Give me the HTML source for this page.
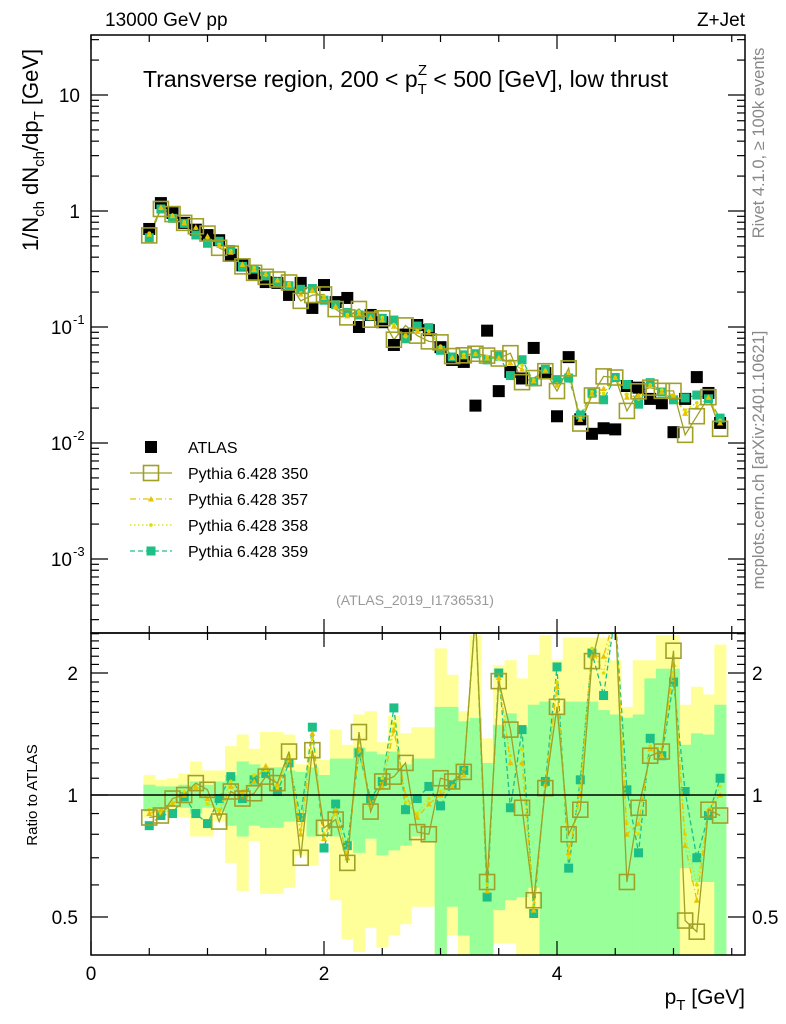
<!DOCTYPE html>
<html><head><meta charset="utf-8"><style>
html,body{margin:0;padding:0;background:#fff;}
svg{display:block;font-family:"Liberation Sans",sans-serif;}
</style></head><body>
<svg id="c" width="786" height="1024" viewBox="0 0 786 1024" xmlns="http://www.w3.org/2000/svg">
<defs>
<clipPath id="cm"><rect x="91" y="35" width="654" height="598"/></clipPath>
<clipPath id="cr"><rect x="91" y="633" width="654" height="322"/></clipPath>
</defs>
<g id="bands" clip-path="url(#cr)"></g>
<g id="ratioMarks" clip-path="url(#cr)"></g>
<g id="mainMarks" clip-path="url(#cm)"></g>
<line x1="91" y1="795" x2="745" y2="795" stroke="#000" stroke-width="1.5"/>
<rect x="91" y="35" width="654" height="598" fill="none" stroke="#000" stroke-width="1.5"/>
<rect x="91" y="633" width="654" height="322" fill="none" stroke="#000" stroke-width="1.5"/>
<g id="axes"></g>
<text x="105" y="26" font-size="19">13000 GeV pp</text>
<text x="745" y="26" font-size="19" text-anchor="end">Z+Jet</text>
<text x="143" y="87" font-size="23">Transverse region, 200 &lt; p<tspan font-size="15" dy="7">T</tspan><tspan font-size="15" dx="-9" dy="-19">Z</tspan><tspan dy="12"> &lt; 500 [GeV], low thrust</tspan></text>
<text transform="translate(38,150) rotate(-90)" font-size="22" text-anchor="middle">1/N<tspan font-size="15" dy="6">ch</tspan><tspan dy="-6"> dN</tspan><tspan font-size="15" dy="6">ch</tspan><tspan dy="-6">/dp</tspan><tspan font-size="15" dy="6">T</tspan><tspan dy="-6"> [GeV]</tspan></text>
<text transform="translate(764,143) rotate(-90)" font-size="16.5" fill="#888" text-anchor="middle">Rivet 4.1.0, ≥ 100k events</text>
<text transform="translate(764,460) rotate(-90)" font-size="16.5" fill="#888" text-anchor="middle">mcplots.cern.ch [arXiv:2401.10621]</text>
<text x="415" y="605" font-size="14" fill="#999" text-anchor="middle">(ATLAS_2019_I1736531)</text>
<text transform="translate(37,795) rotate(-90)" font-size="15" text-anchor="middle">Ratio to ATLAS</text>
<text x="745" y="1004" font-size="21" text-anchor="end">p<tspan font-size="15" dy="6">T</tspan><tspan dy="-6"> [GeV]</tspan></text>
<g id="legend"></g>
</svg>
<script>
const xs=[0.5,0.6,0.7,0.8,0.9,1.0,1.1,1.2,1.3,1.4,1.5,1.6,1.7,1.8,1.9,2.0,2.1,2.2,2.3,2.4,2.5,2.6,2.7,2.8,2.9,3.0,3.1,3.2,3.3,3.4,3.5,3.6,3.7,3.8,3.9,4.0,4.1,4.2,4.3,4.4,4.5,4.6,4.7,4.8,4.9,5.0,5.1,5.2,5.3,5.4];
const atlas=[0.70,1.17,0.96,0.79,0.69,0.62,0.56,0.42,0.34,0.29,0.244,0.240,0.189,0.240,0.146,0.230,0.164,0.178,0.100,0.127,0.110,0.070,0.086,0.104,0.094,0.067,0.052,0.050,0.021,0.093,0.028,0.041,0.036,0.066,0.040,0.017,0.055,0.016,0.012,0.0134,0.0131,0.031,0.030,0.024,0.022,0.0124,0.024,0.037,0.027,0.0149];
const r350=[0.88,0.89,0.98,1.0,1.07,1.03,0.86,1.02,0.98,1.01,1.11,1.07,1.28,0.70,1.29,0.83,0.87,0.68,1.43,0.91,1.08,1.11,1.20,0.81,0.80,1.10,1.08,1.14,2.8,0.61,1.91,1.45,0.93,0.55,1.04,1.65,0.80,0.92,2.14,2.8,2.8,0.61,0.93,1.25,1.28,2.27,0.49,0.46,0.92,0.89];
const r357=[0.90,0.92,0.95,1.0,1.05,0.98,0.90,1.05,1.02,1.08,1.18,1.06,1.22,0.80,1.42,0.78,0.92,0.70,1.30,0.95,1.05,1.45,1.0,0.88,0.95,1.0,1.05,1.12,2.8,0.58,1.95,1.2,1.2,0.52,1.06,1.85,0.72,1.0,2.2,2.2,2.8,0.8,0.85,1.3,1.25,2.1,0.75,0.55,0.92,1.0];
const r358=[0.92,0.90,0.96,1.02,1.03,0.95,0.92,1.08,1.0,1.12,1.15,1.04,1.25,0.82,1.38,0.80,0.90,0.72,1.35,0.93,1.1,1.5,0.96,0.90,0.98,1.02,1.04,1.16,2.8,0.6,1.9,1.25,1.3,0.53,1.05,1.9,0.7,1.05,2.3,2.0,2.8,0.85,0.8,1.32,1.3,2.0,0.8,0.6,0.9,1.05];
const r359=[0.84,0.89,0.90,0.99,0.90,0.85,0.98,1.11,0.98,1.09,1.13,1.02,1.20,0.88,1.47,0.74,0.95,0.75,1.27,0.98,1.08,1.64,0.92,0.98,1.05,0.94,1.06,1.15,2.8,0.56,2.0,0.93,1.45,0.51,1.08,2.07,0.66,1.09,2.24,1.76,2.8,1.03,0.72,1.38,1.25,1.90,1.02,0.70,0.89,1.1];
const yHi=[1.12,1.09,1.10,1.13,1.21,1.15,1.15,1.32,1.41,1.30,1.43,1.43,1.41,1.19,1.31,1.22,1.45,1.33,1.58,1.61,1.35,1.57,1.42,1.47,1.47,2.30,1.98,1.61,2.48,1.38,2.09,2.15,1.94,2.22,2.48,2.15,2.45,2.45,2.45,2.45,2.15,1.65,2.15,2.15,2.48,2.48,1.67,1.85,1.77,2.35];
const yLo=[0.88,0.90,0.90,0.88,0.79,0.79,0.86,0.68,0.58,0.77,0.57,0.57,0.59,0.71,0.67,0.77,0.55,0.44,0.41,0.47,0.42,0.45,0.48,0.53,0.53,0.30,0.45,0.30,0.30,0.30,0.43,0.43,0.30,0.30,0.30,0.30,0.30,0.30,0.30,0.30,0.30,0.30,0.30,0.30,0.30,0.30,0.30,0.30,0.30,0.30];
const gHi=[1.06,1.05,1.05,1.06,1.08,1.06,1.08,1.12,1.21,1.19,1.17,1.17,1.15,1.14,1.17,1.12,1.23,1.23,1.31,1.28,1.26,1.28,1.19,1.23,1.23,1.65,1.65,1.52,1.55,1.20,1.49,1.59,1.47,1.67,1.70,1.59,1.70,1.70,1.70,1.62,1.58,1.55,1.58,1.94,2.05,2.05,1.33,1.42,1.41,1.67];
const gLo=[0.91,0.91,0.945,0.93,0.90,0.93,0.91,0.84,0.79,0.84,0.83,0.83,0.86,0.91,0.79,0.86,0.79,0.77,0.72,0.78,0.71,0.73,0.75,0.79,0.77,0.30,0.53,0.45,0.30,0.30,0.52,0.55,0.56,0.59,0.30,0.30,0.30,0.30,0.30,0.30,0.30,0.30,0.30,0.30,0.30,0.30,0.66,0.61,0.61,0.30];
const xTickLabels=["0","2","4"];
const ratioTickLabels=["0.5","1","2"];

const NS="http://www.w3.org/2000/svg";
const X=x=>91+116.5*x;
const YM=v=>211-116*Math.log10(v);
const YR=r=>795-122*Math.log2(r);
function mk(tag,attrs,parent){const e=document.createElementNS(NS,tag);for(const k in attrs)e.setAttribute(k,attrs[k]);parent.appendChild(e);return e;}
const bands=document.getElementById('bands'),rm=document.getElementById('ratioMarks'),mm=document.getElementById('mainMarks'),ax=document.getElementById('axes'),lg=document.getElementById('legend');

xs.forEach((x,i)=>{
  let r=mk('rect',{x:X(x-0.05),y:YR(yHi[i]),width:X(x+0.05)-X(x-0.05)+0.5,height:YR(yLo[i])-YR(yHi[i]),fill:'#ffff99'},bands);
  
  
});
xs.forEach((x,i)=>{
  let r=mk('rect',{x:X(x-0.05),y:YR(gHi[i]),width:X(x+0.05)-X(x-0.05)+0.5,height:YR(gLo[i])-YR(gHi[i]),fill:'#99ff99'},bands);
  
  
});

const series=[
 {name:'pythia-350',r:r350,col:'#a0a028',dash:'',mk:'box'},
 {name:'pythia-357',r:r357,col:'#e6c200',dash:'6,3,1,3',mk:'tri'},
 {name:'pythia-358',r:r358,col:'#d6e000',dash:'1.5,2.5',mk:'dot'},
 {name:'pythia-359',r:r359,col:'#1cbf86',dash:'5,3',mk:'sq'}
];
function marker(g,kind,cx,cy,col,name){
  let e;
  if(kind==='box')e=mk('rect',{x:cx-7.5,y:cy-7.5,width:15,height:15,fill:'none',stroke:col,'stroke-width':1.6},g);
  else if(kind==='sq')e=mk('rect',{x:cx-4.5,y:cy-4.5,width:9,height:9,fill:col},g);
  else if(kind==='tri')e=mk('polygon',{points:`${cx-3},${cy+2.5} ${cx+3},${cy+2.5} ${cx},${cy-3}`,fill:col},g);
  else if(kind==='dot')e=mk('circle',{cx:cx,cy:cy,r:1.8,fill:col},g);
  else e=mk('rect',{x:cx-6,y:cy-6,width:12,height:12,fill:'#000'},g);
  
  
  return e;
}
series.slice().reverse().forEach(s=>{
  const g=mk('g',{},mm);
  
  
  const pts=xs.map((x,i)=>X(x)+','+YM(atlas[i]*s.r[i])).join(' ');
  const pl=mk('polyline',{points:pts,fill:'none',stroke:s.col,'stroke-width':1.3,'stroke-dasharray':s.dash},g);
  
  
});
xs.forEach((x,i)=>marker(mm,'atlas',X(x),YM(atlas[i]),'#000','atlas-point'));
series.slice().reverse().forEach(s=>{
  xs.forEach((x,i)=>marker(mm,s.mk,X(x),YM(atlas[i]*s.r[i]),s.col,s.name+'-point'));
});
series.slice().reverse().forEach(s=>{
  const g=mk('g',{},rm);
  
  
  const pts=xs.map((x,i)=>X(x)+','+YR(s.r[i])).join(' ');
  const pl=mk('polyline',{points:pts,fill:'none',stroke:s.col,'stroke-width':1.3,'stroke-dasharray':s.dash},g);
  
  
  xs.forEach((x,i)=>marker(g,s.mk,X(x),YR(s.r[i]),s.col,s.name+'-ratio-point'));
});

function ln(x1,y1,x2,y2,name){const l=mk('line',{x1,y1,x2,y2,stroke:'#000','stroke-width':1.2},ax);}
function tx(x,y,s,anchor,size,name){const t=mk('text',{x,y,'font-size':size,'text-anchor':anchor},ax);t.textContent=s;return t;}
for(let k=0;k<=11;k++){
  const x=k*0.5,px=X(x),maj=(k%4===0),L=maj?14:7;
  if(px>745)continue;
  ln(px,35,px,35+L,'x-tick');ln(px,633,px,633-L,'x-tick');
  ln(px,633,px,633+L,'x-tick');ln(px,955,px,955-L,'x-tick');
}
xTickLabels.forEach(s=>tx(X(+s),980,s,'middle',19,'x-tick-label'));
for(let d=-4;d<=1;d++){
  for(let m=1;m<=9;m++){
    const v=m*Math.pow(10,d),py=YM(v);
    if(py<35||py>633)continue;
    const L=m===1?17:8;
    ln(91,py,91+L,py,'y-tick');ln(745,py,745-L,py,'y-tick');
  }
}
tx(80,102,'10','end',19,'y-tick-label');
tx(80,218,'1','end',19,'y-tick-label');
[[-1,327],[-2,443],[-3,559]].forEach(([e,py])=>{
  tx(72,py+7,'10','end',19,'y-tick-label');
  tx(73,py-3,String(e),'start',13,'y-tick-exponent');
});
for(let m=4;m<=25;m++){
  const r=m/10;const py=YR(r);if(py<633||py>955)continue;
  const maj=(m===5||m===10||m===20);const L=maj?17:8;
  ln(91,py,91+L,py,'ratio-y-tick');ln(745,py,745-L,py,'ratio-y-tick');
}
ratioTickLabels.forEach(s=>{
  const py=YR(+s)+7;
  tx(78,py,s,'end',19,'ratio-y-tick-label');
  tx(752,py,s,'start',19,'ratio-y-tick-label');
});

const legItems=[['ATLAS','atlas','#000',''],['Pythia 6.428 350','box','#a0a028',''],['Pythia 6.428 357','tri','#e6c200','6,3,1,3'],['Pythia 6.428 358','dot','#d6e000','1.5,2.5'],['Pythia 6.428 359','sq','#1cbf86','5,3']];
legItems.forEach((it,i)=>{
  const y=447+26*i;
  const g=mk('g',{},lg);
  
  
  if(it[1]!=='atlas'){const l=mk('line',{x1:130,y1:y,x2:172,y2:y,stroke:it[2],'stroke-width':1.3,'stroke-dasharray':it[3]},g);}
  marker(g,it[1],151,y,it[2],'legend-marker');
  const t=mk('text',{x:188,y:y+6,'font-size':16},g);t.textContent=it[0];
  
  
});
</script>
</body></html>
